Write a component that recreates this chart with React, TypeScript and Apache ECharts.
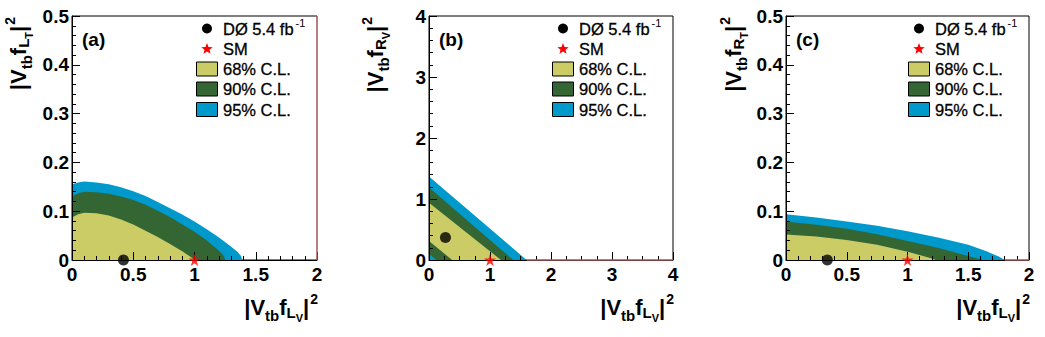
import React, { useEffect, useRef } from "react";
import * as echarts from "echarts";

// ---------- data ----------
const panelLabels = ["(a)", "(b)", "(c)"];
const legendLabels = ["DØ 5.4 fb", "SM", "68% C.L.", "90% C.L.", "95% C.L."];
const xTickMax = [2, 4, 2];
const xTickStep = [0.5, 1, 0.5];
const xMinorSplit = [5, 4, 5];
const yTickMax = [0.5, 4, 0.5];
const yTickStep = [0.1, 1, 0.1];
const yMinorSplit = [5, 5, 5];

// panel (a): |Vtb fLT|^2 vs |Vtb fLV|^2
const a95 = [[0, 0.155], [0.05, 0.159], [0.1, 0.161], [0.2, 0.159], [0.3, 0.155], [0.4, 0.149], [0.5, 0.141], [0.6, 0.131], [0.7, 0.119], [0.8, 0.106], [0.9, 0.093], [1.0, 0.079], [1.1, 0.063], [1.2, 0.046], [1.3, 0.027], [1.35, 0.017], [1.38, 0.008], [1.39, 0]];
const a90 = [[0, 0.13], [0.05, 0.137], [0.1, 0.14], [0.2, 0.139], [0.3, 0.136], [0.4, 0.13], [0.5, 0.123], [0.6, 0.113], [0.7, 0.101], [0.8, 0.088], [0.9, 0.073], [1.0, 0.058], [1.1, 0.04], [1.2, 0.019], [1.24, 0.008], [1.25, 0]];
const a68 = [[0, 0.087], [0.05, 0.094], [0.1, 0.097], [0.2, 0.096], [0.3, 0.091], [0.4, 0.083], [0.5, 0.073], [0.6, 0.06], [0.7, 0.047], [0.8, 0.033], [0.9, 0.018], [0.97, 0.006], [1.0, 0]];
const aD0 = [[0.42, 0]];
const aSM = [[1, 0]];
const aEdge = [[2, 0], [2, 0.5]];

// panel (b): |Vtb fRV|^2 vs |Vtb fLV|^2
const b95 = [[0, 1.37], [1.6, 0]];
const b90 = [[0, 1.19], [1.38, 0]];
const b68 = [[0, 0.94], [1.18, 0]];
const b90inner = [[0, 0.31], [0.38, 0]];
const b95inner = [[0, 0.1], [0.12, 0]];
const bD0 = [[0.27, 0.37]];
const bSM = [[1, 0]];
const bEdge = [[1.6, 0], [4, 0]];

// panel (c): |Vtb fRT|^2 vs |Vtb fLV|^2
const c95 = [[0, 0.094], [0.25, 0.087], [0.5, 0.079], [0.75, 0.07], [1.0, 0.059], [1.25, 0.046], [1.5, 0.031], [1.65, 0.018], [1.75, 0.007], [1.8, 0]];
const c90 = [[0, 0.079], [0.25, 0.072], [0.5, 0.064], [0.75, 0.053], [1.0, 0.039], [1.25, 0.025], [1.5, 0.008], [1.62, 0]];
const c68 = [[0, 0.052], [0.25, 0.048], [0.5, 0.041], [0.75, 0.031], [1.0, 0.017], [1.1, 0.01], [1.2, 0.003], [1.23, 0]];
const cD0 = [[0.34, 0]];
const cSM = [[1, 0]];
const cEdge = [[1.8, 0], [2, 0]];

// ---------- styling ----------
const YELLOW = "#CCCC66";
const GREEN = "#336633";
const BLUE = "#0099CC";
const FONT = "Liberation Sans, Arial, Helvetica, sans-serif";

const grids = [
  { left: 72, top: 16, width: 245, height: 244 },
  { left: 429, top: 16, width: 244, height: 244 },
  { left: 786, top: 16, width: 243, height: 244 },
];
const yTitleX = [18, 375, 733];

const panelRegions = [
  [{ d: a95, c: BLUE }, { d: a90, c: GREEN }, { d: a68, c: YELLOW }],
  [{ d: b95, c: BLUE }, { d: b90, c: GREEN }, { d: b68, c: YELLOW }, { d: b90inner, c: GREEN }, { d: b95inner, c: BLUE }],
  [{ d: c95, c: BLUE }, { d: c90, c: GREEN }, { d: c68, c: YELLOW }],
];
const panelD0 = [aD0, bD0, cD0];
const panelSM = [aSM, bSM, cSM];
const panelEdge = [aEdge, bEdge, cEdge];

const STAR = "path://M50,0 L61.8,35.4 L100,35.4 L69.1,57.3 L80.9,92.7 L50,70.8 L19.1,92.7 L30.9,57.3 L0,35.4 L38.2,35.4 Z";

const titleRich = {
  m: { fontSize: 22, fontWeight: "bold", fontFamily: FONT, color: "#000", lineHeight: 34 },
  s1: { fontSize: 15, fontWeight: "bold", fontFamily: FONT, color: "#000", lineHeight: 34, padding: [16, 0, 0, 0] },
  s2: { fontSize: 15, fontWeight: "bold", fontFamily: FONT, color: "#000", lineHeight: 34, padding: [10, 0, 0, 0] },
  ss: { fontSize: 11, fontWeight: "bold", fontFamily: FONT, color: "#000", lineHeight: 34, padding: [22, 0, 0, 0] },
  p: { fontSize: 14, fontWeight: "bold", fontFamily: FONT, color: "#000", lineHeight: 34, padding: [0, 0, 16, 1] },
};
const xTitle = "{m||V}{s1|tb}{m|f}{s2|L}{ss|V}{m||}{p|2}";
const yTitles = [
  "{m||V}{s1|tb}{m|f}{s2|L}{ss|T}{m||}{p|2}",
  "{m||V}{s1|tb}{m|f}{s2|R}{ss|V}{m||}{p|2}",
  "{m||V}{s1|tb}{m|f}{s2|R}{ss|T}{m||}{p|2}",
];

function starPoints(cx: number, cy: number, R: number, r: number) {
  const pts: number[][] = [];
  for (let k = 0; k < 10; k++) {
    const ang = -Math.PI / 2 + (k * Math.PI) / 5;
    const rad = k % 2 === 0 ? R : r;
    pts.push([cx + rad * Math.cos(ang), cy + rad * Math.sin(ang)]);
  }
  return pts;
}

function buildOption() {
  const xAxis: any[] = [];
  const yAxis: any[] = [];
  const series: any[] = [];
  const graphic: any[] = [];

  grids.forEach((g, i) => {
    xAxis.push({
      type: "value",
      gridIndex: i,
      min: 0,
      max: xTickMax[i],
      interval: xTickStep[i],
      z: 3,
      axisLine: { show: true, onZero: false, lineStyle: { color: "#000", width: 1 } },
      axisTick: { show: true, inside: true, length: 8, lineStyle: { color: "#000", width: 1 } },
      minorTick: { show: true, splitNumber: xMinorSplit[i], length: 4, lineStyle: { color: "#000", width: 1 } },
      splitLine: { show: false },
      axisLabel: { color: "#000", fontSize: 19, fontWeight: "bold", fontFamily: FONT, margin: 5 },
    });
    yAxis.push({
      type: "value",
      gridIndex: i,
      min: 0,
      max: yTickMax[i],
      interval: yTickStep[i],
      z: 3,
      axisLine: { show: true, onZero: false, lineStyle: { color: "#000", width: 1 } },
      axisTick: { show: true, inside: true, length: 8, lineStyle: { color: "#000", width: 1 } },
      minorTick: { show: true, splitNumber: yMinorSplit[i], length: 4, lineStyle: { color: "#000", width: 1 } },
      splitLine: { show: false },
      axisLabel: { color: "#000", fontSize: 19, fontWeight: "bold", fontFamily: FONT, margin: 3 },
    });

    panelRegions[i].forEach((r, k) => {
      series.push({
        type: "line",
        name: `region-${i}-${k}`,
        xAxisIndex: i,
        yAxisIndex: i,
        data: r.d,
        symbol: "none",
        showSymbol: false,
        silent: true,
        lineStyle: { width: 0, color: r.c },
        areaStyle: { color: r.c, opacity: 1 },
        z: 2,
      });
    });
    // faint red contour edge along the frame (as in the original plot)
    series.push({
      type: "line",
      name: `edge-${i}`,
      xAxisIndex: i,
      yAxisIndex: i,
      data: panelEdge[i],
      symbol: "none",
      showSymbol: false,
      silent: true,
      clip: false,
      lineStyle: { width: 1, color: "#F08080" },
      z: 4,
    });
    series.push({
      type: "scatter",
      name: legendLabels[0],
      xAxisIndex: i,
      yAxisIndex: i,
      data: panelD0[i],
      symbol: "circle",
      symbolSize: 11,
      clip: false,
      itemStyle: { color: "#000" },
      z: 6,
    });
    series.push({
      type: "scatter",
      name: legendLabels[1],
      xAxisIndex: i,
      yAxisIndex: i,
      data: panelSM[i],
      symbol: STAR,
      symbolSize: 12,
      clip: false,
      itemStyle: { color: "#FF0000" },
      z: 6,
    });

    const L = g.left;
    const T = g.top;
    const R = g.left + g.width;
    const B = g.top + g.height;

    // panel label
    graphic.push({
      type: "text",
      x: L + 10,
      y: T + 23,
      z: 10,
      style: { text: panelLabels[i], fontSize: 19, fontWeight: "bold", fontFamily: FONT, fill: "#000", verticalAlign: "middle" },
    });

    // legend
    const iconCx = R - 110;
    const textX = R - 94;
    const rows = [T + 12.5, T + 33, T + 53, T + 73, T + 93.5];
    graphic.push({ type: "circle", z: 10, shape: { cx: iconCx, cy: rows[0], r: 5 }, style: { fill: "#000" } });
    graphic.push({ type: "polygon", z: 10, shape: { points: starPoints(iconCx, rows[1], 6, 2.6) }, style: { fill: "#FF0000" } });
    [YELLOW, GREEN, BLUE].forEach((c, k) => {
      graphic.push({
        type: "rect",
        z: 10,
        shape: { x: iconCx - 10.5, y: rows[2 + k] - 7, width: 21, height: 14 },
        style: { fill: c, stroke: "#000", lineWidth: 1 },
      });
    });
    graphic.push({
      type: "text",
      z: 10,
      x: textX,
      y: rows[0],
      style: {
        text: `{t|${legendLabels[0]}}{u|-1}`,
        verticalAlign: "middle",
        rich: {
          t: { fontSize: 16.5, fontFamily: FONT, fill: "#000", stroke: "#000", lineWidth: 0.3, lineHeight: 20 },
          u: { fontSize: 11, fontFamily: FONT, fill: "#000", lineHeight: 20, padding: [0, 0, 12, 2] },
        },
      },
    });
    for (let k = 1; k < 5; k++) {
      graphic.push({
        type: "text",
        z: 10,
        x: textX,
        y: rows[k],
        style: { text: legendLabels[k], fontSize: 16.5, fontFamily: FONT, fill: "#000", stroke: "#000", lineWidth: 0.3, verticalAlign: "middle" },
      });
    }

    // x-axis title
    graphic.push({
      type: "text",
      z: 10,
      x: R + 1,
      y: B + 47,
      style: { text: xTitle, align: "right", verticalAlign: "middle", rich: titleRich },
    });
    // y-axis title
    graphic.push({
      type: "text",
      z: 10,
      x: yTitleX[i],
      y: T + 1,
      rotation: Math.PI / 2,
      style: { text: yTitles[i], align: "right", verticalAlign: "middle", rich: titleRich },
    });
  });

  return {
    animation: false,
    backgroundColor: "#ffffff",
    grid: grids.map((g) => ({
      left: g.left,
      top: g.top,
      width: g.width,
      height: g.height,
      show: true,
      borderColor: "#000",
      borderWidth: 1,
      backgroundColor: "transparent",
      containLabel: false,
    })),
    xAxis,
    yAxis,
    series,
    graphic,
  };
}

export default function App() {
  const ref = useRef<HTMLDivElement>(null);
  useEffect(() => {
    if (!ref.current) return;
    const chart = echarts.init(ref.current, undefined, { renderer: "svg" });
    chart.setOption(buildOption() as any);
    return () => chart.dispose();
  }, []);
  return (
    <div
      ref={ref}
      style={{ position: "absolute", left: 0, top: 0, width: 1045, height: 337, background: "#fff" }}
    />
  );
}
